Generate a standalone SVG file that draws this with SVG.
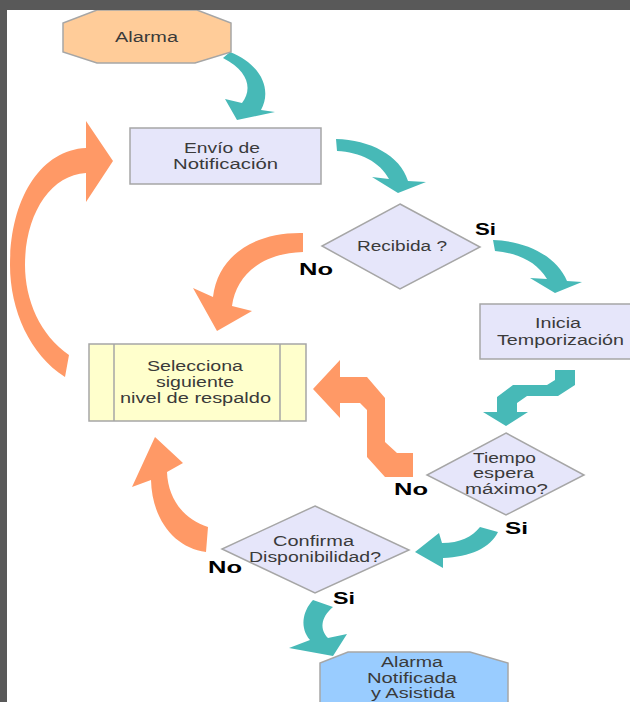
<svg xmlns="http://www.w3.org/2000/svg" width="630" height="702" viewBox="0 0 630 702">
<style>
.node{stroke:#a6a6a6;stroke-width:1.5}
.oct1{fill:#ffcc99}
.oct2{fill:#99ccff}
.lav{fill:#e6e6fa}
.yel{fill:#ffffcc}
.t{font-family:"Liberation Sans",Arial,sans-serif;font-size:14px;fill:#3a3a3a}
.lbl{font-family:"Liberation Sans",Arial,sans-serif;font-size:16px;font-weight:bold;fill:#000}
.teal{fill:#47b9b7}
.orng{fill:#ff9966}
</style>
<rect x="0" y="0" width="630" height="702" fill="#ffffff"/>

<g id="connectors">
  <path class="teal" d="M223,58 L230,52 C262,65 272,90 261,110 L275,112 L237,120 L225,99 L242,103 C252,90 250,72 223,58 Z"/>
  <path class="teal" d="M336,139 C370,140 400,155 408,181 L426,182 L398,193 L372,177 L389,179 C380,162 360,152 337,151 Z"/>
  <path class="teal" d="M493,240 C525,241 556,255 567,281 L582,282 L555,293 L530,278 L547,279 C537,262 518,253 495,251 Z"/>
  <path class="orng" d="M303,233 C255,232 218,255 213,297 L193,288 L217,331 L252,311 L232,306 C236,275 262,253 303,252 Z"/>
  <path class="orng" d="M69,355 C40,335 25,300 25,265 C25,215 50,175 86,173 L86,202 L113,161 L86,121 L86,148 C40,150 10,200 10,265 C10,310 30,355 65,377 Z"/>
  <path class="teal" d="M555,370 L575,370 L575,385 L558,396 L527,396 L517,403 L517,412 L528,412 L506,426 L483,412 L497,412 L497,397 L513,385 L547,385 L555,380 Z"/>
  <path class="orng" d="M313,389 L340,360 L340,377 L367,377 L385,398 L385,442 L397,453 L413,453 L413,477 L385,477 L367,457 L367,410 L360,403 L340,403 L340,418 Z"/>
  <path class="teal" d="M480,527 L498,532 C490,548 470,557 443,558 L443,568 L415,552 L439,533 L442,543 C460,543 472,537 480,527 Z"/>
  <path class="orng" d="M208,527 C185,520 168,500 167,472 L183,463 L155,437 L132,487 L151,480 C152,520 175,548 206,552 Z"/>
  <path class="teal" d="M313,600 L333,607 C320,618 320,630 328,638 L347,634 L333,656 L289,648 L310,640 C300,628 302,612 313,600 Z"/>
  <text class="lbl" x="475" y="235" textLength="21" lengthAdjust="spacingAndGlyphs">Si</text>
  <text class="lbl" x="299" y="275" textLength="34" lengthAdjust="spacingAndGlyphs">No</text>
  <text class="lbl" x="394" y="495" textLength="34" lengthAdjust="spacingAndGlyphs">No</text>
  <text class="lbl" x="505" y="534" textLength="23" lengthAdjust="spacingAndGlyphs">Si</text>
  <text class="lbl" x="208" y="573" textLength="34" lengthAdjust="spacingAndGlyphs">No</text>
  <text class="lbl" x="333" y="604" textLength="22" lengthAdjust="spacingAndGlyphs">Si</text>
</g>

<g id="alarma">
  <polygon class="node oct1" points="97,10 197,10 231,23 231,52 195,63 97,63 63,52 63,23"/>
  <text class="t" x="115" y="42" textLength="63" lengthAdjust="spacingAndGlyphs">Alarma</text>
</g>

<g id="envio">
  <rect class="node lav" x="130" y="128" width="191" height="56"/>
  <text class="t" x="184" y="153" textLength="76" lengthAdjust="spacingAndGlyphs">Envío de</text>
  <text class="t" x="173" y="169" textLength="105" lengthAdjust="spacingAndGlyphs">Notificación</text>
</g>

<g id="recibida">
  <polygon class="node lav" points="400,204 480,247 400,289 322,246"/>
  <text class="t" x="357" y="251" textLength="90" lengthAdjust="spacingAndGlyphs">Recibida ?</text>
</g>

<g id="inicia">
  <rect class="node lav" x="480" y="304" width="152" height="55"/>
  <text class="t" x="535" y="328" textLength="46" lengthAdjust="spacingAndGlyphs">Inicia</text>
  <text class="t" x="497" y="345" textLength="127" lengthAdjust="spacingAndGlyphs">Temporización</text>
</g>

<g id="selecciona">
  <rect class="node yel" x="89" y="344" width="217" height="77"/>
  <line class="node" x1="114" y1="344" x2="114" y2="421"/>
  <line class="node" x1="280" y1="344" x2="280" y2="421"/>
  <text class="t" x="147" y="371" textLength="96" lengthAdjust="spacingAndGlyphs">Selecciona</text>
  <text class="t" x="156" y="387" textLength="78" lengthAdjust="spacingAndGlyphs">siguiente</text>
  <text class="t" x="120" y="403" textLength="151" lengthAdjust="spacingAndGlyphs">nivel de respaldo</text>
</g>

<g id="tiempo">
  <polygon class="node lav" points="506,433 584,475 506,515 427,475"/>
  <text class="t" x="473" y="463" textLength="63" lengthAdjust="spacingAndGlyphs">Tiempo</text>
  <text class="t" x="473" y="478" textLength="61" lengthAdjust="spacingAndGlyphs">espera</text>
  <text class="t" x="465" y="494" textLength="83" lengthAdjust="spacingAndGlyphs">máximo?</text>
</g>

<g id="confirma">
  <polygon class="node lav" points="315,506 409,550 315,593 222,549"/>
  <text class="t" x="273" y="546" textLength="81" lengthAdjust="spacingAndGlyphs">Confirma</text>
  <text class="t" x="249" y="562" textLength="132" lengthAdjust="spacingAndGlyphs">Disponibilidad?</text>
</g>

<g id="alarma-notificada">
  <polygon class="node oct2" points="348,652 470,652 508,663 508,712 470,724 348,724 320,712 320,663"/>
  <text class="t" x="381" y="667" textLength="62" lengthAdjust="spacingAndGlyphs">Alarma</text>
  <text class="t" x="367" y="683" textLength="90" lengthAdjust="spacingAndGlyphs">Notificada</text>
  <text class="t" x="371" y="698" textLength="84" lengthAdjust="spacingAndGlyphs">y Asistida</text>
</g>

<rect x="0" y="0" width="630" height="10" fill="#595959"/>
<rect x="0" y="0" width="7" height="702" fill="#595959"/>
</svg>
